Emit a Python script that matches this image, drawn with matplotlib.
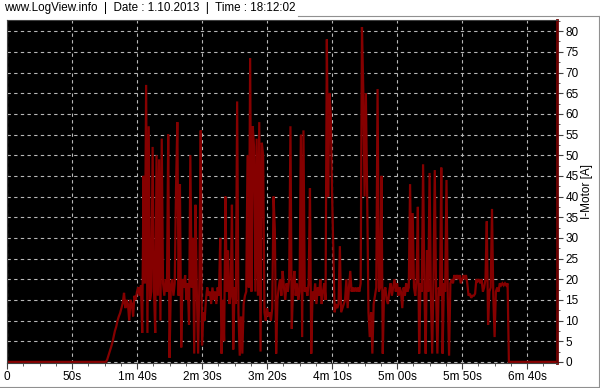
import numpy as np
import matplotlib.pyplot as plt
from matplotlib.lines import Line2D
from matplotlib.ticker import MultipleLocator, FixedLocator

secs = [0] + list(range(75, 387)) + [423]
amps = [0,
        0, 0, 0.5, 1.5, 2.5, 3.5, 4.6, 6, 7.5, 8.5, 10, 11, 11.8, 13, 14.2,   # 75-89
        16.7, 13, 15, 14, 10, 15, 14, 11, 16, 15,        # 90
        17, 18, 16, 18.5, 7, 45, 19, 67, 7, 57,          # 100
        15, 17, 52, 18, 7, 50, 16, 49, 10, 54,           # 110
        19, 16, 20, 17, 55, 1, 18, 20, 16, 19,           # 120
        42, 58, 16, 43, 3.5, 20, 18, 21, 15, 19,         # 130
        9, 50, 18, 30, 2, 38, 17, 2, 20, 56,             # 140
        4, 12, 10, 15, 18, 16, 17, 14, 18, 15,           # 150
        17, 14, 18, 16, 30, 2, 15, 5, 40, 17,            # 160
        27, 14, 16, 38, 3, 18, 14, 63, 12, 1.5,          # 170
        11, 2, 14, 16, 17, 50, 18, 73.5, 17, 57,         # 180
        52, 17, 54, 16, 58, 2.5, 53, 50, 12, 10,         # 190
        13, 11, 12, 10, 13, 40, 32, 2, 15, 18,           # 200
        20, 16, 22, 18, 15, 19, 17, 20, 57, 8,           # 210
        18, 22, 16, 19, 15, 17, 55, 6, 56, 17,           # 220
        18, 16, 19, 42, 2, 17, 15, 19, 14, 18,           # 230
        16, 20, 14, 17, 19, 15, 78, 40, 65, 60,          # 240
        41, 27, 12, 14, 13, 14, 28, 12, 13, 14,          # 250
        15, 20, 13, 18, 22, 17, 18, 17, 18, 17,          # 260
        18, 17, 19, 81, 66, 40, 65, 40, 12, 6,           # 270
        12, 2, 14, 16, 18, 66, 17, 18, 45, 2,            # 280
        17, 18, 15, 14, 17, 19, 16, 18, 20, 17,          # 290
        19, 16, 18, 17, 13, 18, 16, 19, 17, 18,          # 300
        43, 20, 36, 18, 16, 20, 37.5, 2, 19, 17,         # 310
        47.8, 18, 2, 27, 17, 45.7, 16, 2, 20, 46.4,      # 320
        17, 2, 18, 16, 47, 2, 19, 17, 44, 16,            # 330
        1.5, 19, 20, 19, 21, 20, 21, 20, 21, 19,         # 340
        20, 21, 20, 21, 19, 16, 16.5, 15.5, 16, 16,      # 350
        16.5, 20, 19.5, 20, 19, 20, 17, 18, 20, 34,      # 360
        9, 17, 18, 37, 16, 6, 17, 18, 17, 19,            # 370
        18.5, 19, 18.5, 19, 18.5, 19, 0,                 # 380-386
        0]

xtick_pos = [0, 50, 100, 150, 200, 250, 300, 350, 400]
xtick_lab = ['0', '50s', '1m 40s', '2m 30s', '3m 20s', '4m 10s', '5m 00s', '5m 50s', '6m 40s']
title_txt = 'www.LogView.info  |  Date : 1.10.2013  |  Time : 18:12:02'

plt.rcParams['font.family'] = ['Liberation Sans', 'DejaVu Sans']

W, H = 600, 388
fig = plt.figure(figsize=(6, 3.88), dpi=100)
ax = fig.add_axes([7 / W, 1 - 362.5 / H, 550 / W, 342.5 / H])
ax.set_facecolor('black')

ax.plot(secs, amps, color='#850000', lw=1.6, solid_joinstyle='miter')

ax.set_xlim(0, 423)
ax.set_ylim(-0.15, 82.7)

ax.xaxis.set_major_locator(FixedLocator(xtick_pos))
ax.set_xticklabels(xtick_lab)
ax.xaxis.set_minor_locator(MultipleLocator(12.5))
ax.yaxis.set_major_locator(MultipleLocator(5))
ax.yaxis.set_minor_locator(MultipleLocator(2.5))
ax.yaxis.tick_right()
ax.yaxis.set_label_position('right')
ax.set_ylabel('I-Motor [A]', fontsize=8.5, rotation=90, labelpad=2)

ax.tick_params(axis='both', which='major', labelsize=8.5, length=4, color='#404040', pad=2)
ax.tick_params(axis='both', which='minor', length=2, color='#404040')

ax.grid(which='major', color='#b8b8b8', ls=(0, (3, 3)), lw=0.8)

for s in ['top', 'left', 'bottom']:
    ax.spines[s].set_color('#404040')
    ax.spines[s].set_linewidth(0.8)
ax.spines['right'].set_color('#6b0000')
ax.spines['right'].set_linewidth(2)

fig.text(4 / W, 1 - 8 / H, title_txt, fontsize=8.4, va='center', ha='left')

# frame around the chart
frame = dict(color='#909090', lw=0.8, transform=fig.transFigure)
fig.add_artist(Line2D([298 / W, 599 / W], [1 - 15.5 / H] * 2, **frame))
fig.add_artist(Line2D([599 / W] * 2, [1 - 15.5 / H, 1 - 386.5 / H], **frame))
fig.add_artist(Line2D([0, 599 / W], [1 - 386.5 / H] * 2, **frame))

fig.savefig('out.png', dpi=100, facecolor='white')
